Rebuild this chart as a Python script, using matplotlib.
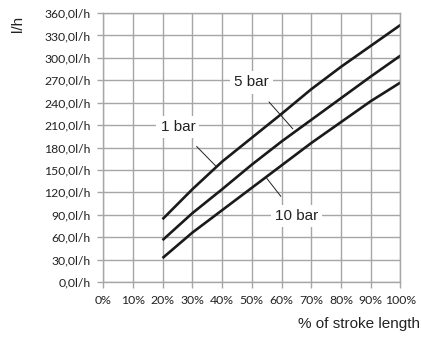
import matplotlib
matplotlib.use("Agg")
import matplotlib.pyplot as plt

# delivery rate vs. stroke length for three back pressures
stroke = [20, 30, 40, 50, 60, 70, 80, 90, 100]
flow_1bar = [84, 124, 161, 193, 225, 258, 288, 316, 344]
flow_5bar = [56, 92, 124, 157, 188, 217, 246, 275, 303]
flow_10bar = [32, 66, 96, 126, 156, 186, 214, 242, 267]

x_ticks = list(range(0, 101, 10))
y_ticks = list(range(0, 361, 30))

label_font = ["Liberation Sans", "DejaVu Sans"]
tick_font = ["Lato", "DejaVu Sans"]

fig = plt.figure(figsize=(4.21, 3.37), dpi=100)
ax = fig.add_axes([0.2447, 0.1632, 0.7066, 0.7982])

grid_col = "#a6a6a6"
ax.set_xlim(0, 100)
ax.set_ylim(0, 360)
ax.set_xticks(x_ticks)
ax.set_yticks(y_ticks)
ax.set_xticklabels([f"{v}%" for v in x_ticks], family=tick_font, fontsize=8.8)
ax.set_yticklabels([f"{v},0l/h" for v in y_ticks], family=tick_font, fontsize=8.8)
ax.grid(True, color=grid_col, linewidth=1.0)
ax.tick_params(colors=grid_col, labelcolor="#222222", length=4, width=1.0, pad=5)
for side in ax.spines.values():
    side.set_color(grid_col)
    side.set_linewidth(1.0)
ax.set_axisbelow(True)

for flow in (flow_1bar, flow_5bar, flow_10bar):
    ax.plot(stroke, flow, color="#1a1a1a", linewidth=1.9, solid_capstyle="butt")

box = dict(facecolor="white", edgecolor="none", pad=3)
annots = [
    ("1 bar", (38.2, 154), (25.2, 207)),
    ("5 bar", (63.8, 205), (50.0, 267)),
    ("10 bar", (55.0, 139), (65.0, 88)),
]
for text, xy, xytext in annots:
    ax.annotate(text, xy=xy, xytext=xytext, ha="center", va="center",
                family=label_font, fontsize=11, color="#222222", bbox=box,
                arrowprops=dict(arrowstyle="-", color="#222222", linewidth=0.7,
                                shrinkA=8, shrinkB=0))

fig.text(0.042, 0.93, "l/h", rotation=90, ha="center", va="center",
         family=label_font, fontsize=11, color="#222222")
fig.text(0.998, 0.04, "% of stroke length", ha="right", va="center",
         family=label_font, fontsize=11, color="#222222")

fig.savefig("out.png", dpi=100)
